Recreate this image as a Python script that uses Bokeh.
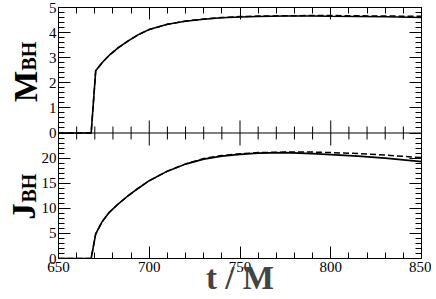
import math
from bokeh.plotting import figure
from bokeh.layouts import row
from bokeh.models import (Range1d, LinearAxis, FixedTicker, Span, Label)
from bokeh.embed import file_html
from bokeh.resources import INLINE

# ---- data ----
t = [650, 668, 670.5, 674, 678, 683, 688, 694, 700, 710, 720, 730, 740, 750,
     760, 775, 790, 800, 815, 830, 850]
m_solid = [0, 0, 2.48, 2.80, 3.10, 3.40, 3.65, 3.92, 4.12, 4.33, 4.45, 4.53,
           4.59, 4.62, 4.64, 4.66, 4.66, 4.65, 4.64, 4.63, 4.60]
m_dash = [0, 0, 2.48, 2.80, 3.10, 3.40, 3.65, 3.92, 4.12, 4.33, 4.46, 4.54,
          4.60, 4.64, 4.66, 4.67, 4.68, 4.68, 4.67, 4.66, 4.65]
j_solid = [0, 0, 4.9, 7.3, 9.2, 10.9, 12.4, 14.0, 15.5, 17.4, 18.8, 19.8,
           20.4, 20.75, 21.0, 21.1, 20.9, 20.7, 20.4, 20.0, 19.3]
j_dash = [0, 0, 4.9, 7.3, 9.2, 10.9, 12.4, 14.0, 15.5, 17.4, 18.85, 19.9,
          20.5, 20.85, 21.1, 21.2, 21.2, 21.1, 20.9, 20.6, 20.1]

x_major = [650, 700, 750, 800, 850]
x_minor = [v for v in range(660, 850, 10) if v % 50 != 0]
m_major = [0, 1, 2, 3, 4, 5]
m_minor = [i / 5 for i in range(1, 25) if i % 5 != 0]
j_major = [0, 5, 10, 15, 20]
j_minor = [i for i in range(1, 25) if i % 5 != 0]
J_TOP = 25

SERIF = "Liberation Serif"
H = 299
TOTAL_W = 431
LW = 38          # width of the strip holding the y-axis titles
B_TOP, B_BOT = 7, 41

p = figure(width=TOTAL_W - LW, height=H, output_backend="svg", toolbar_location=None,
           x_range=Range1d(650, 850), y_range=Range1d(-5, 5),
           min_border_left=17, min_border_right=10, min_border_top=B_TOP,
           min_border_bottom=B_BOT, x_axis_type=None, y_axis_type=None,
           outline_line_color=None, background_fill_color="white",
           border_fill_color="white")
p.xgrid.visible = False
p.ygrid.visible = False
p.extra_y_ranges = {"J": Range1d(0, 2 * J_TOP)}


def j_to_m(j):
    return (j - J_TOP) / 5.0


left_major = m_major + [j_to_m(j) for j in j_major]
left_minor = m_minor + [j_to_m(j) for j in j_minor]
overrides = {float(m): str(m) for m in m_major}
overrides.update({j_to_m(j): str(j) for j in j_major})


def style(ax, labels):
    ax.axis_line_color = "black"
    ax.axis_line_width = 1
    ax.major_tick_in = 12
    ax.major_tick_out = 0
    ax.minor_tick_in = 6
    ax.minor_tick_out = 0
    ax.major_tick_line_color = "black"
    ax.minor_tick_line_color = "black"
    if labels:
        ax.major_label_text_font = SERIF
        ax.major_label_text_font_size = "15px"
        ax.major_label_text_color = "black"
        ax.major_label_standoff = 2
    else:
        ax.major_label_text_font_size = "0px"
        ax.major_label_standoff = 0


yt = FixedTicker(ticks=left_major, minor_ticks=left_minor)
xt = FixedTicker(ticks=x_major, minor_ticks=x_minor)

ly = LinearAxis(ticker=yt, major_label_overrides=overrides)
style(ly, True)
ry = LinearAxis(ticker=yt, major_label_overrides={v: "" for v in left_major})
style(ry, False)
bx = LinearAxis(ticker=xt, axis_label="t / M")
style(bx, True)
bx.major_label_standoff = 3
bx.axis_label_text_font = SERIF
bx.axis_label_text_font_style = "bold"
bx.axis_label_text_font_size = "33px"
bx.axis_label_standoff = -15
ax_ = LinearAxis(ticker=xt, major_label_overrides={v: "" for v in x_major})
style(ax_, False)
p.add_layout(ly, "left")
p.add_layout(ry, "right")
p.add_layout(bx, "below")
p.add_layout(ax_, "above")

# middle dividing line with ticks both directions
p.add_layout(Span(location=0, dimension="width", line_color="black", line_width=1))
p.scatter(x=x_major, y=[0] * len(x_major), marker="dash", angle=math.pi / 2,
          size=25, line_color="black", line_width=1)
p.scatter(x=x_minor, y=[0] * len(x_minor), marker="dash", angle=math.pi / 2,
          size=13, line_color="black", line_width=1)

# curves
p.line(t, m_dash, line_color="black", line_width=1.5, line_dash="6 3")
p.line(t, m_solid, line_color="black", line_width=1.6)
p.line(t, j_dash, line_color="black", line_width=1.5, line_dash="6 3", y_range_name="J")
p.line(t, j_solid, line_color="black", line_width=1.6, y_range_name="J")

# strip on the left for the rotated y titles with subscripts
q = figure(width=LW, height=H, output_backend="svg", toolbar_location=None,
           x_range=Range1d(0, LW), y_range=Range1d(B_BOT, H - B_TOP),
           min_border_left=0, min_border_right=0, min_border_top=B_TOP,
           min_border_bottom=B_BOT, x_axis_type=None, y_axis_type=None,
           outline_line_color=None, background_fill_color="white",
           border_fill_color="white")
q.xgrid.visible = False
q.ygrid.visible = False


def lab(txt, x, ytop, size, align="left"):
    # positions in the strip's own pixel frame, mapped through q's ranges
    q.add_layout(Label(x=x, y=H - ytop, x_units="data", y_units="data",
                       text=txt, angle=math.pi / 2, text_align=align,
                       text_baseline="alphabetic", text_font=SERIF,
                       text_font_style="bold", text_font_size=size,
                       text_color="black"))


lab("M", 25, 86, "33px", "center")
lab("BH", 28, 70, "20px", "left")
lab("J", 23, 211, "33px", "center")
lab("BH", 28, 202, "20px", "left")

layout = row(q, p, spacing=0)
open("out.html", "w").write(file_html(layout, INLINE))
